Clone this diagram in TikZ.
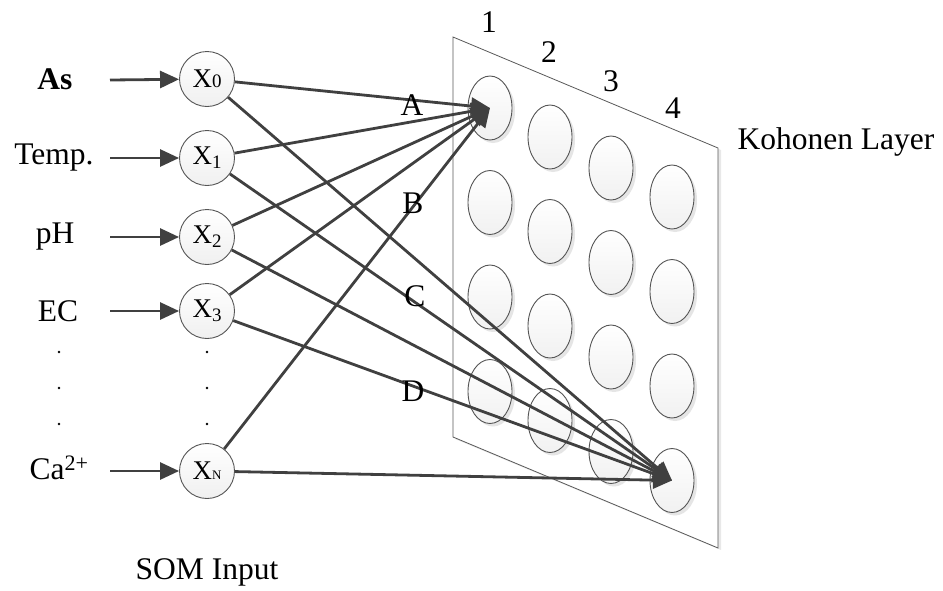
\documentclass[tikz,border=0pt]{standalone}
\usepackage{fontspec}
\setmainfont{Liberation Serif}
\usetikzlibrary{arrows.meta,shapes.geometric,shadows}
\definecolor{ink}{HTML}{404040}
\definecolor{rim}{HTML}{555555}
\begin{document}
\begin{tikzpicture}[x=1pt,y=-1pt,
  txt/.style={font=\fontsize{31.5}{36}\selectfont, inner sep=0pt},
  inp/.style={circle, draw=rim, line width=0.9pt, minimum size=55pt, inner sep=0pt,
              top color=white, bottom color=gray!12,
              font=\fontsize{27}{30}\selectfont},
  unit/.style={ellipse, draw=rim, line width=0.9pt, minimum width=44pt, minimum height=64pt,
               inner sep=0pt, top color=white, bottom color=gray!11,
               drop shadow={shadow xshift=3pt, shadow yshift=-3pt, fill=gray!25, opacity=0.8}},
  arr/.style={draw=ink, line width=2.8pt, -{Triangle[length=19pt,width=17pt]}},
  dot/.style={circle, fill=black, inner sep=0pt, minimum size=2.6pt}]
\useasboundingbox (0,0) rectangle (943,590);

% Kohonen sheet with a faint edge shadow on the right
\fill[gray!18] (455,39) -- (721,150) -- (721,550) -- (455,439) -- cycle;
\draw[fill=white, draw=gray!70!black, line width=0.8pt]
  (453,37) -- (718,148) -- (718,548) -- (453,437) -- cycle;

% Kohonen units: column c, row r
\foreach \c/\x/\y in {1/490/108, 2/550/137, 3/611/168, 4/672/197}{
  \foreach \r in {1,2,3,4}{
    \node[unit] (k\c\r) at (\x,{\y+(\r-1)*94.5}) {};
  }
}

% column numbers
\node[txt] (n1) at (489,22) {1};
\node[txt] (n2) at (549,52) {2};
\node[txt] (n3) at (611,81) {3};
\node[txt] (n4) at (673,108) {4};
\node[txt] (kl) at (836,142) {Kohonen Layer};

% input nodes
\node[inp] (x0) at (207,79) {X\raisebox{0pt}{\fontsize{19}{20}\selectfont 0}};
\node[inp] (x1) at (207,158) {X\raisebox{-4pt}{\fontsize{19}{20}\selectfont 1}};
\node[inp] (x2) at (207,237) {X\raisebox{-4pt}{\fontsize{19}{20}\selectfont 2}};
\node[inp] (x3) at (207,311) {X\raisebox{-4pt}{\fontsize{19}{20}\selectfont 3}};
\node[inp] (xn) at (207,471) {X\raisebox{0pt}{\fontsize{13}{14}\selectfont N}};

% input labels
\node[txt, font=\fontsize{31.5}{36}\selectfont\bfseries] (la) at (55,79) {As};
\node[txt] (lt) at (54,158) {Temp.};
\node[txt] (lp) at (55,237) {pH};
\node[txt] (le) at (58,311) {EC};
\node[txt] (lc) at (59,468) {Ca\textsuperscript{2+}};

% arrow starts
\foreach \n/\y in {0/80,1/158,2/237,3/311,n/471}{
  \coordinate (s\n) at (110,\y);
  \draw[arr] (s\n) -- (x\n);
}

% ellipsis dots
\foreach \y [count=\i] in {352,388,424}{
  \node[dot] (dl\i) at (59,\y) {};
  \node[dot] (dn\i) at (207,\y) {};
}

% weights to the winning units
\foreach \n in {0,1,2,3,n}{
  \draw[arr] (x\n) -- (k11.center);
  \draw[arr] (x\n) -- (k44.center);
}

% connection labels
\node[txt] (wa) at (412,105) {A};
\node[txt] (wb) at (413,203) {B};
\node[txt] (wc) at (415,296) {C};
\node[txt] (wd) at (413,391) {D};

\node[txt] (som) at (207,572) {SOM Input};
\end{tikzpicture}
\end{document}
